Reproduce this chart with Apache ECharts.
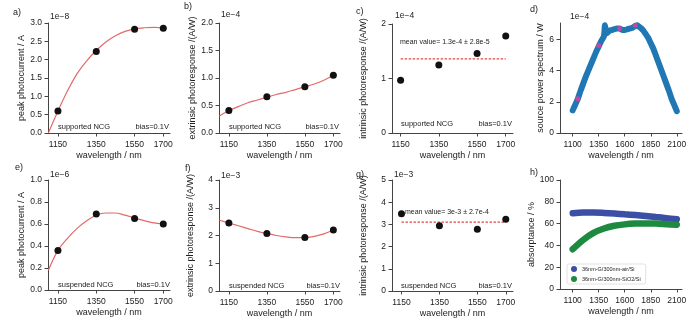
<!DOCTYPE html>
<html><head><meta charset="utf-8">
<script src="https://cdn.jsdelivr.net/npm/echarts@6/dist/echarts.min.js"></script>
<style>html,body{margin:0;padding:0;background:#fff}#c{width:697px;height:326px}</style>
</head><body><div id="c"></div>
<script>
// ---------- data ----------
const wavelengths = [1150, 1350, 1550, 1700];
const xTicksShort = [1150, 1350, 1550, 1700];
const xTicksLong = [1100, 1350, 1600, 1850, 2100];
const dYTicks = [0, 2, 4, 6];
const fitX = [1100,1150,1200,1250,1300,1350,1400,1450,1500,1550,1600,1650,1700];

// a) supported, peak photocurrent (x1e-8 A)
const aPoints = [0.60, 2.22, 2.83, 2.86];
const aFit = [0.00,0.60,1.15,1.62,1.97,2.25,2.48,2.65,2.77,2.84,2.87,2.88,2.87];
// b) supported, extrinsic photoresponse (x1e-4 A/W)
const bPoints = [0.41, 0.66, 0.84, 1.05];
const bFit = [0.31,0.41,0.48,0.55,0.60,0.65,0.70,0.74,0.79,0.84,0.89,0.96,1.05];
// c) supported, intrinsic photoresponse (x1e-4 A/W)
const cPoints = [0.97, 1.25, 1.46, 1.78];
const cMean = 1.36;
// d) source power spectrum (x1e-4 W)
const dX = [1100,1110,1130,1150,1175,1200,1225,1250,1275,1300,1325,1350,1375,1400,1410,1420,1430,1450,1475,1500,1525,1550,1575,1600,1625,1650,1675,1700,1720,1740,1760,1780,1800,1825,1850,1875,1900,1925,1950,1975,2000,2025,2050,2075,2100];
const dY = [1.45,1.6,1.9,2.2,2.7,3.15,3.6,4.0,4.4,4.8,5.2,5.55,5.9,6.2,6.9,6.5,6.4,6.55,6.6,6.65,6.7,6.7,6.6,6.6,6.65,6.7,6.75,6.85,6.9,6.8,6.7,6.55,6.35,6.1,5.75,5.4,4.95,4.5,4.05,3.6,3.15,2.7,2.2,1.8,1.4];
const dMarked = [2.2, 5.6, 6.7, 6.9];
// e) suspended, peak photocurrent (x1e-6 A)
const ePoints = [0.36, 0.69, 0.65, 0.60];
const eFit = [0.18,0.36,0.47,0.56,0.63,0.68,0.70,0.70,0.68,0.655,0.63,0.61,0.60];
// f) suspended, extrinsic photoresponse (x1e-3 A/W)
const fPoints = [2.45, 2.07, 1.93, 2.20];
const fFit = [2.55,2.45,2.35,2.25,2.15,2.07,2.00,1.95,1.92,1.92,1.97,2.06,2.20];
// g) suspended, intrinsic photoresponse (x1e-3 A/W)
const gPoints = [3.48, 2.94, 2.78, 3.23];
const gMean = 3.1;
// h) absorptance (%)
const hX = [1100,1200,1300,1400,1500,1600,1700,1800,1900,2000,2100];
const hAir = [69.5,70.2,70.2,69.8,69.2,68.5,67.8,67.0,66.0,65.0,64.0];
const hSiO2 = [36.5,45.0,51.5,55.5,58.0,59.3,60.0,60.2,60.0,59.5,59.0];
const legendNames = ['36nm-G/300nm-air/Si', '36nm-G/300nm-SiO2/Si'];

// ---------- helpers ----------
const FF = 'Liberation Sans, Arial, Helvetica, sans-serif';
const AX = '#444';
const TXT = '#222';
const zip = (xs, ys) => xs.map((x, i) => [x, ys[i]]);

const grids = [
  {left:48, top:23, width:122, height:110},
  {left:219, top:23, width:121, height:110},
  {left:392, top:24, width:121, height:109},
  {left:560, top:23, width:122, height:110},
  {left:48, top:180, width:122, height:110},
  {left:219, top:180, width:121, height:111},
  {left:392, top:180, width:121, height:111},
  {left:560, top:180, width:122, height:109}
];

function xAx(i, min, max, ticks) {
  return {
    gridIndex: i, type: 'value', min: min, max: max,
    name: 'wavelength / nm', nameLocation: 'middle', nameGap: 18,
    nameTextStyle: {fontSize: 9, color: TXT, fontFamily: FF},
    axisLine: {show: true, onZero: false, lineStyle: {color: AX, width: 1}},
    axisTick: {show: true, length: 3.5, customValues: ticks, lineStyle: {color: AX}},
    axisLabel: {customValues: ticks, fontSize: 8.5, color: TXT, margin: 7, fontFamily: FF,
      formatter: v => String(Math.round(v))},
    splitLine: {show: false}
  };
}
function yAx(i, max, interval, name, gap, dec) {
  return {
    gridIndex: i, type: 'value', min: 0, max: max, interval: interval,
    name: name, nameLocation: 'middle', nameGap: gap, nameRotate: 90,
    nameTextStyle: {fontSize: 9, color: TXT, fontFamily: FF},
    axisLine: {show: true, onZero: false, lineStyle: {color: AX, width: 1}},
    axisTick: {show: true, length: 3.5, lineStyle: {color: AX}},
    axisLabel: {fontSize: 8.5, color: TXT, margin: 6, fontFamily: FF,
      formatter: v => v.toFixed(dec)},
    splitLine: {show: false}
  };
}

const xAxes = [
  xAx(0, 1098, 1735, xTicksShort), xAx(1, 1098, 1735, xTicksShort),
  xAx(2, 1105, 1738, xTicksShort), xAx(3, 978, 2150, xTicksLong),
  xAx(4, 1098, 1735, xTicksShort), xAx(5, 1098, 1735, xTicksShort),
  xAx(6, 1100, 1738, xTicksShort), xAx(7, 978, 2150, xTicksLong)
];
const yAxes = [
  yAx(0, 3, 0.5, 'peak photocurrent / A', 22, 1),
  yAx(1, 2, 0.5, 'extrinsic photoresponse /(A/W)', 22, 1),
  yAx(2, 2, 1, 'intrinsic photoresponse /(A/W)', 24, 0),
  yAx(3, 7.05, 2, 'source power spectrum / W', 15, 0),
  yAx(4, 1, 0.2, 'peak photocurrent / A', 22, 1),
  yAx(5, 4, 1, 'extrinsic photoresponse /(A/W)', 24, 0),
  yAx(6, 5, 1, 'intrinsic photoresponse /(A/W)', 24, 0),
  yAx(7, 100, 20, 'absorptance / %', 18, 0)
];
yAxes[3].axisTick.customValues = dYTicks;
yAxes[3].axisLabel.customValues = dYTicks;

const RED = '#e46a6a';
function fitLine(i, ys) {
  return {type: 'line', xAxisIndex: i, yAxisIndex: i, data: zip(fitX, ys),
    smooth: 0.35, showSymbol: false, silent: true,
    lineStyle: {color: RED, width: 1.2}, z: 2};
}
function dots(i, ys, color, size) {
  return {type: 'scatter', xAxisIndex: i, yAxisIndex: i, data: zip(wavelengths, ys),
    symbolSize: size || 7, itemStyle: {color: color || '#111', opacity: 1}, z: 5, silent: true};
}
function meanLine(i, m) {
  const x0 = wavelengths[0], x1 = wavelengths[wavelengths.length - 1];
  return {type: 'line', xAxisIndex: i, yAxisIndex: i, data: [[x0, m], [x1, m]],
    showSymbol: false, silent: true, z: 3,
    lineStyle: {color: '#e24a4a', type: [2.5, 1.5], width: 1.3}};
}

const series = [
  fitLine(0, aFit), dots(0, aPoints),
  fitLine(1, bFit), dots(1, bPoints),
  meanLine(2, cMean), dots(2, cPoints),
  {type: 'line', xAxisIndex: 3, yAxisIndex: 3, data: zip(dX, dY), smooth: 0.2,
    showSymbol: false, silent: true,
    lineStyle: {color: '#1f77b4', width: 6, cap: 'round', join: 'round'}, z: 2},
  dots(3, dMarked, '#c04aa0', 5),
  fitLine(4, eFit), dots(4, ePoints),
  fitLine(5, fFit), dots(5, fPoints),
  meanLine(6, gMean), dots(6, gPoints),
  {name: legendNames[0], type: 'line', xAxisIndex: 7, yAxisIndex: 7, data: zip(hX, hAir),
    smooth: 0.3, showSymbol: false, silent: true, color: '#3b4fa5',
    lineStyle: {color: '#3b4fa5', width: 6.5, cap: 'round'}, z: 2},
  {name: legendNames[1], type: 'line', xAxisIndex: 7, yAxisIndex: 7, data: zip(hX, hSiO2),
    smooth: 0.3, showSymbol: false, silent: true, color: '#1d8a40',
    lineStyle: {color: '#1d8a40', width: 6.5, cap: 'round'}, z: 3}
];

function T(text, x, y, size, align) {
  return {type: 'text', x: x, y: y, silent: true,
    style: {text: text, fontSize: size, fontFamily: FF, fill: TXT,
      align: align || 'left', verticalAlign: 'middle'}};
}
const graphics = [
  T('a)', 13, 13, 9), T('b)', 184, 7, 9), T('c)', 356, 12, 9), T('d)', 530, 10, 9),
  T('e)', 15, 168, 9), T('f)', 185, 169, 9), T('g)', 356, 175, 9), T('h)', 530, 173, 9),
  T('1e\u22128', 50, 17, 8.5), T('1e\u22124', 221, 15, 8.5), T('1e\u22124', 395, 16, 8.5),
  T('1e\u22124', 570, 17, 8.5), T('1e\u22126', 50, 175, 8.5), T('1e\u22123', 221, 175.5, 8.5),
  T('1e\u22123', 394, 175, 8.5),
  T('supported NCG', 58, 127, 7.5), T('bias=0.1V', 169, 127, 7.5, 'right'),
  T('supported NCG', 229, 127, 7.5), T('bias=0.1V', 339, 127, 7.5, 'right'),
  T('supported NCG', 401, 123.5, 7.5), T('bias=0.1V', 512, 123.5, 7.5, 'right'),
  T('suspended NCG', 58, 284.5, 7.5), T('bias=0.1V', 170, 284.5, 7.5, 'right'),
  T('suspended NCG', 229, 285.5, 7.5), T('bias=0.1V', 340, 285.5, 7.5, 'right'),
  T('suspended NCG', 401, 285.5, 7.5), T('bias=0.1V', 512, 285.5, 7.5, 'right'),
  T('mean value= 1.3e-4 \u00b1 2.8e-5', 400, 42.5, 7),
  T('mean value= 3e-3 \u00b1 2.7e-4', 405, 212.5, 7)
];

const chart = echarts.init(document.getElementById('c'), null, {renderer: 'canvas'});
chart.setOption({
  animation: false,
  backgroundColor: '#fff',
  grid: grids,
  xAxis: xAxes,
  yAxis: yAxes,
  series: series,
  legend: {data: legendNames, orient: 'vertical', left: 567, top: 264,
    itemWidth: 6, itemHeight: 6, itemGap: 4, icon: 'circle',
    textStyle: {fontSize: 5.5, color: TXT, fontFamily: FF},
    borderColor: '#cfcfcf', borderWidth: 0.6, borderRadius: 2, padding: [2, 5, 2, 4],
    backgroundColor: '#fff', selectedMode: false},
  graphic: graphics
});
</script></body></html>
